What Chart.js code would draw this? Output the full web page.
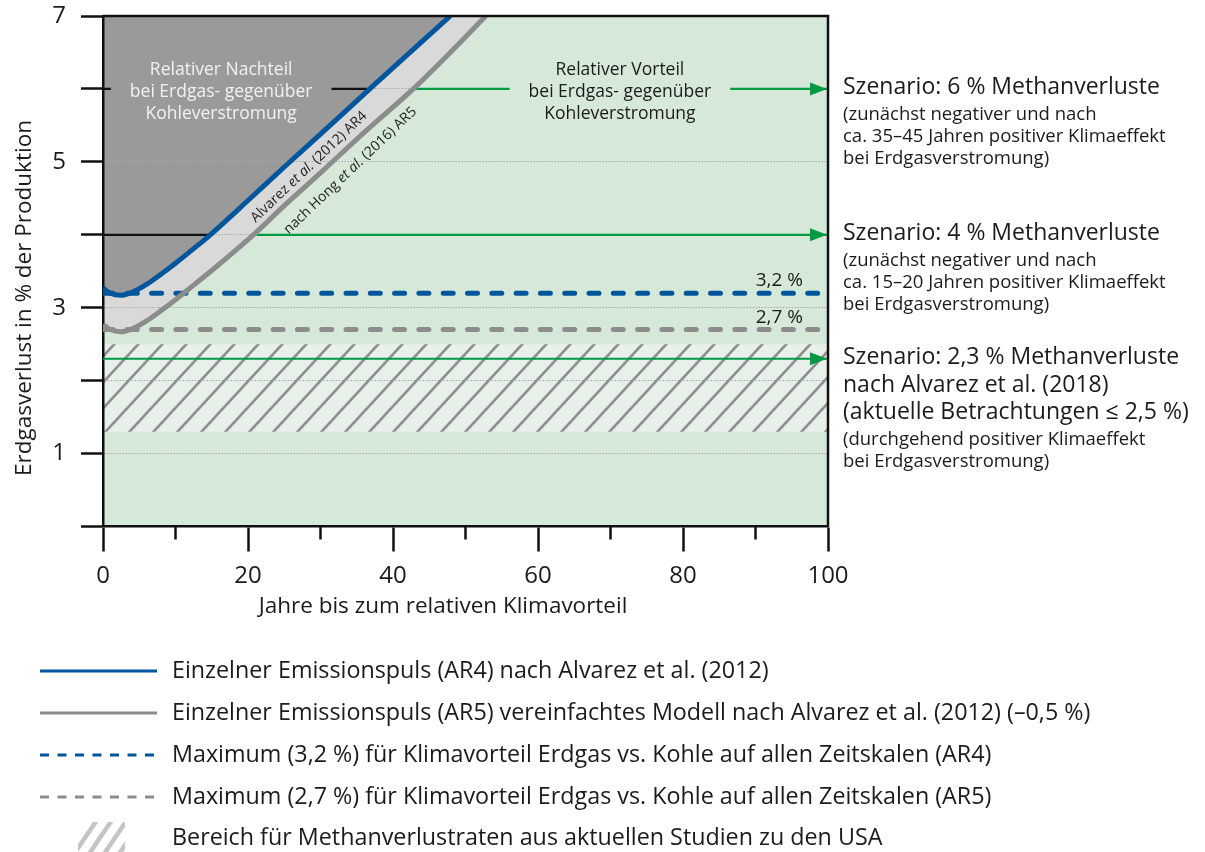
<!DOCTYPE html>
<html>
<head>
<meta charset="utf-8">
<script src="https://cdn.jsdelivr.net/npm/chart.js@4.4.1/dist/chart.umd.min.js"></script>
<style>
  html, body { margin: 0; padding: 0; background: #ffffff; }
  #wrap { width: 1205px; height: 852px; }
</style>
</head>
<body>
<div id="wrap"><canvas id="chart" width="1205" height="852"></canvas></div>
<script>
const FONT = '"Open Sans", "Noto Sans", "DejaVu Sans", sans-serif';

// ---- axes ----
const yTickLabels = { 1: '1', 3: '3', 5: '5', 7: '7' };
const xTickLabels = { 0: '0', 20: '20', 40: '40', 60: '60', 80: '80', 100: '100' };
const xMinorTicks = [10, 30, 50, 70, 90];

// ---- break-even curves: years until climate advantage vs. methane loss (%) ----
const ar4Years = [0, 1, 2.5, 4, 6, 8, 10, 12.5, 14.8, 20, 25, 30, 36.8, 42, 47.9];
const ar4Loss  = [3.27, 3.2, 3.17, 3.21, 3.32, 3.46, 3.61, 3.81, 4.0, 4.47, 4.93, 5.38, 6.0, 6.47, 7.0];
const ar5Years = [0, 1, 2.5, 4, 6, 8, 10, 12.5, 15, 21.2, 25, 30, 36, 42.8, 48, 52.8];
const ar5Loss  = [2.77, 2.7, 2.67, 2.71, 2.82, 2.96, 3.11, 3.31, 3.51, 4.04, 4.4, 4.85, 5.4, 6.0, 6.51, 7.0];

// ---- maximum loss with an advantage on all time scales ----
const maxAR4 = 3.2;
const maxAR5 = 2.7;

// ---- range of loss rates from current US studies ----
const usStudyLow = 1.3;
const usStudyHigh = 2.5;

// ---- scenarios ----
const scenarioLoss = [6, 4, 2.3];
const scenarioDisadvantageUntil = [36.8, 14.8, 0];   // crossing of the AR4 curve
const scenarioAdvantageFrom = [42.8, 21.2, 0];       // crossing of the AR5 curve
const scenarioTitles = [
  ['Szenario: 6 % Methanverluste'],
  ['Szenario: 4 % Methanverluste'],
  ['Szenario: 2,3 % Methanverluste', 'nach Alvarez et al. (2018)', '(aktuelle Betrachtungen \u2264 2,5 %)']
];
const scenarioNotes = [
  ['(zun\u00e4chst negativer und nach', 'ca. 35\u201345 Jahren positiver Klimaeffekt', 'bei Erdgasverstromung)'],
  ['(zun\u00e4chst negativer und nach', 'ca. 15\u201320 Jahren positiver Klimaeffekt', 'bei Erdgasverstromung)'],
  ['(durchgehend positiver Klimaeffekt', 'bei Erdgasverstromung)']
];

const legendItems = [
  'Einzelner Emissionspuls (AR4) nach Alvarez et al. (2012)',
  'Einzelner Emissionspuls (AR5) vereinfachtes Modell nach Alvarez et al. (2012) (\u20130,5 %)',
  'Maximum (3,2 %) f\u00fcr Klimavorteil Erdgas vs. Kohle auf allen Zeitskalen (AR4)',
  'Maximum (2,7 %) f\u00fcr Klimavorteil Erdgas vs. Kohle auf allen Zeitskalen (AR5)',
  'Bereich f\u00fcr Methanverlustraten aus aktuellen Studien zu den USA'
];

// ---- colours ----
const BLUE = '#00569c';
const GREY = '#8c8c8c';
const DARK = '#9a9a9a';
const LIGHT = '#d9d9d9';
const GREEN_BG = '#d6e8d8';
const HATCH_BG = '#e8f1e9';
const HATCH_LINE = '#8f8f8f';
const ARROW = '#009a44';
const INK = '#1b1b1b';
const GRID = '#a8a8a8';

const pts = (xs, ys) => xs.map((x, i) => ({ x, y: ys[i] }));
const hLine = (y, x0, x1) => [{ x: x0, y }, { x: x1, y }];

function hatchPattern(bg, line, w, h, lw) {
  const c = document.createElement('canvas');
  c.width = w; c.height = h;
  const g = c.getContext('2d');
  if (bg) { g.fillStyle = bg; g.fillRect(0, 0, w, h); }
  g.strokeStyle = line; g.lineWidth = lw;
  for (let k = -1; k <= 1; k++) {
    g.beginPath();
    g.moveTo(k * w - 0.2 * w, h + 0.2 * h);
    g.lineTo((k + 1) * w + 0.2 * w, -0.2 * h);
    g.stroke();
  }
  return g.createPattern(c, 'repeat');
}

const base = { pointRadius: 0, pointHoverRadius: 0, fill: false, borderJoinStyle: 'round' };

const datasets = [
  { ...base, label: 'AR4', data: pts(ar4Years, ar4Loss), borderColor: BLUE, borderWidth: 5,
    cubicInterpolationMode: 'monotone', fill: 'end', backgroundColor: DARK, order: 1 },
  { ...base, label: 'AR5', data: pts(ar5Years, ar5Loss), borderColor: GREY, borderWidth: 5,
    cubicInterpolationMode: 'monotone', fill: 'end', backgroundColor: LIGHT, order: 2 },
  { ...base, label: 'max AR4', data: hLine(maxAR4, 0, 100), borderColor: BLUE, borderWidth: 5,
    borderDash: [10, 14.3], borderCapStyle: 'round', order: 3 },
  { ...base, label: 'max AR5', data: hLine(maxAR5, 0, 100), borderColor: GREY, borderWidth: 5,
    borderDash: [10, 14.3], borderCapStyle: 'round', order: 3 }
];

scenarioLoss.forEach((v, i) => {
  if (scenarioDisadvantageUntil[i] > 0) {
    datasets.push({ ...base, label: 'Nachteil ' + v, data: hLine(v, 0, scenarioDisadvantageUntil[i]),
      borderColor: '#111111', borderWidth: 2.2, order: 4 });
  }
  datasets.push({ ...base, label: 'Szenario ' + v, data: hLine(v, scenarioAdvantageFrom[i], 100),
    borderColor: ARROW, borderWidth: 2.2, order: 4 });
});

datasets.push({ ...base, label: 'USA', data: hLine(usStudyHigh, 0, 100), borderWidth: 0,
  fill: { value: usStudyLow }, backgroundColor: hatchPattern(HATCH_BG, HATCH_LINE, 24, 26, 2.6), order: 8 });
datasets.push({ ...base, label: 'Vorteil', data: hLine(7, 0, 100), borderWidth: 0,
  fill: 'origin', backgroundColor: GREEN_BG, order: 9 });

function textPieces(ctx, pieces, size) {
  // pieces: [text, italic]
  let total = 0;
  pieces.forEach(p => { ctx.font = (p[1] ? 'italic ' : '') + size + 'px ' + FONT; total += ctx.measureText(p[0]).width; });
  let xx = -total / 2;
  pieces.forEach(p => {
    ctx.font = (p[1] ? 'italic ' : '') + size + 'px ' + FONT;
    ctx.fillText(p[0], xx, 0);
    xx += ctx.measureText(p[0]).width;
  });
}

const decor = {
  id: 'decor',
  afterDatasetsDraw(chart) {
    const { ctx, chartArea: a, scales: { x, y } } = chart;
    ctx.save();

    // minor x ticks and the top/right frame
    ctx.strokeStyle = '#111111';
    ctx.lineWidth = 2.5;
    xMinorTicks.forEach(v => {
      const px = x.getPixelForValue(v);
      ctx.beginPath(); ctx.moveTo(px, a.bottom); ctx.lineTo(px, a.bottom + 13); ctx.stroke();
    });
    ctx.beginPath();
    ctx.moveTo(a.left, a.top); ctx.lineTo(a.right, a.top); ctx.lineTo(a.right, a.bottom);
    ctx.stroke();

    // arrow heads of the scenario lines
    ctx.fillStyle = ARROW;
    scenarioLoss.forEach(v => {
      const py = y.getPixelForValue(v), tip = x.getPixelForValue(100) - 1;
      ctx.beginPath(); ctx.moveTo(tip, py); ctx.lineTo(tip - 17, py - 6.5); ctx.lineTo(tip - 17, py + 6.5);
      ctx.closePath(); ctx.fill();
    });

    // region labels
    const region = (lines, cx, ly, color, cover) => {
      ctx.font = '17.5px ' + FONT;
      ctx.textAlign = 'center'; ctx.textBaseline = 'middle';
      const w = Math.max(...lines.map(l => ctx.measureText(l).width));
      ctx.fillStyle = cover;
      ctx.fillRect(cx - w / 2 - 19, ly - 4, w + 38, 8);
      ctx.fillStyle = color;
      lines.forEach((l, i) => ctx.fillText(l, cx, ly + 3 + (i - 1) * 22));
    };
    const y6 = y.getPixelForValue(scenarioLoss[0]);
    region(['Relativer Nachteil', 'bei Erdgas- gegen\u00fcber', 'Kohleverstromung'],
      x.getPixelForValue(16.3), y6, '#f2f2f2', DARK);
    region(['Relativer Vorteil', 'bei Erdgas- gegen\u00fcber', 'Kohleverstromung'],
      x.getPixelForValue(71.3), y6, INK, GREEN_BG);

    // labels of the maximum lines
    ctx.font = '19px ' + FONT;
    ctx.textAlign = 'right'; ctx.textBaseline = 'middle'; ctx.fillStyle = INK;
    ctx.fillText('3,2 %', a.right - 25, y.getPixelForValue(maxAR4) - 13);
    ctx.fillText('2,7 %', a.right - 25, y.getPixelForValue(maxAR5) - 12);

    // curve labels
    ctx.fillStyle = '#222222';
    ctx.textAlign = 'left'; ctx.textBaseline = 'middle';
    const ang = -43.5 * Math.PI / 180;
    ctx.save();
    ctx.translate(x.getPixelForValue(28.4), y.getPixelForValue(4.93));
    ctx.rotate(ang);
    textPieces(ctx, [['Alvarez ', false], ['et al.', true], [' (2012) AR4', false]], 14);
    ctx.restore();
    ctx.save();
    ctx.translate(x.getPixelForValue(34.1), y.getPixelForValue(4.88));
    ctx.rotate(ang);
    textPieces(ctx, [['nach Hong ', false], ['et al.', true], [' (2016) AR5', false]], 14);
    ctx.restore();

    ctx.restore();
  },
  afterDraw(chart) {
    const { ctx, chartArea: a, scales: { y } } = chart;
    ctx.save();
    ctx.fillStyle = INK;
    ctx.textBaseline = 'middle';

    // axis titles
    ctx.font = '22.5px ' + FONT;
    ctx.textAlign = 'center';
    ctx.fillText('Jahre bis zum relativen Klimavorteil', a.left + 340, a.bottom + 80);
    ctx.save();
    ctx.translate(25, 298);
    ctx.rotate(-Math.PI / 2);
    ctx.fillText('Erdgasverlust in % der Produktion', 0, 0);
    ctx.restore();

    // scenario descriptions
    ctx.textAlign = 'left';
    const tx = a.right + 15;
    scenarioLoss.forEach((v, i) => {
      let ty = y.getPixelForValue(v) - 1;
      ctx.font = '23px ' + FONT;
      scenarioTitles[i].forEach((t, k) => { if (k > 0) ty += 27.5; ctx.fillText(t, tx, ty); });
      ty += 26.5;
      ctx.font = '18.5px ' + FONT;
      scenarioNotes[i].forEach((t, k) => { if (k > 0) ty += 22; ctx.fillText(t, tx, ty); });
    });

    // legend
    const rows = [671, 713, 755, 797, 838];
    const lx0 = 40, lx1 = 157, textX = 172;
    const styles = [
      { c: BLUE, dash: [] }, { c: GREY, dash: [] },
      { c: BLUE, dash: [9, 8.5] }, { c: GREY, dash: [9, 8.5] }
    ];
    styles.forEach((s, i) => {
      ctx.save();
      ctx.strokeStyle = s.c; ctx.lineWidth = 3; ctx.setLineDash(s.dash);
      ctx.beginPath(); ctx.moveTo(lx0, rows[i]); ctx.lineTo(lx1, rows[i]); ctx.stroke();
      ctx.restore();
    });
    ctx.save();
    ctx.beginPath(); ctx.rect(78, 822, 47, 30); ctx.clip();
    ctx.strokeStyle = '#c4c4c4'; ctx.lineWidth = 4.5;
    for (let k = 0; k < 4; k++) {
      const bx = 74 + k * 15;
      ctx.beginPath(); ctx.moveTo(bx, 854); ctx.lineTo(bx + 23, 820); ctx.stroke();
    }
    ctx.restore();
    ctx.font = '23.3px ' + FONT;
    ctx.fillStyle = INK;
    legendItems.forEach((t, i) => ctx.fillText(t, textX, rows[i]));

    ctx.restore();
  }
};

Chart.defaults.font.family = FONT;
Chart.defaults.color = INK;

const noScalePadding = s => { s.paddingTop = 0; s.paddingBottom = 0; s.paddingLeft = 0; s.paddingRight = 0; };

new Chart(document.getElementById('chart'), {
  type: 'line',
  data: { datasets },
  options: {
    responsive: false,
    animation: false,
    events: [],
    layout: { padding: { left: 0, top: 16, right: 377, bottom: 225.5 } },
    plugins: {
      legend: { display: false },
      tooltip: { enabled: false },
      filler: { drawTime: 'beforeDraw' }
    },
    scales: {
      x: {
        type: 'linear', min: 0, max: 100,
        afterFit: s => { s.height = 100; noScalePadding(s); },
        border: { display: true, color: '#111111', width: 2.5 },
        grid: {
          drawOnChartArea: false, drawTicks: true, tickLength: 25, tickWidth: 2.5,
          tickColor: c => (c.tick && xTickLabels[c.tick.value] !== undefined) ? '#111111' : 'rgba(0,0,0,0)'
        },
        ticks: {
          stepSize: 10, padding: 10, color: INK, font: { size: 24 },
          autoSkip: false, maxRotation: 0,
          callback: v => xTickLabels[v] !== undefined ? xTickLabels[v] : ''
        }
      },
      y: {
        type: 'linear', min: 0, max: 7,
        afterFit: s => { s.width = 103; noScalePadding(s); },
        border: { display: true, color: '#111111', width: 2.5, dash: [1.5, 1.5] },
        grid: {
          drawOnChartArea: true, lineWidth: 1,
          color: c => (c.tick && c.tick.value > 0 && c.tick.value < 7) ? GRID : 'rgba(0,0,0,0)',
          drawTicks: true, tickLength: 22, tickWidth: 2.5, tickColor: '#111111'
        },
        ticks: {
          stepSize: 1, padding: 15, color: INK, font: { size: 24 },
          autoSkip: false,
          callback: v => yTickLabels[v] !== undefined ? yTickLabels[v] : ''
        }
      }
    }
  },
  plugins: [decor]
});
</script>
</body>
</html>
